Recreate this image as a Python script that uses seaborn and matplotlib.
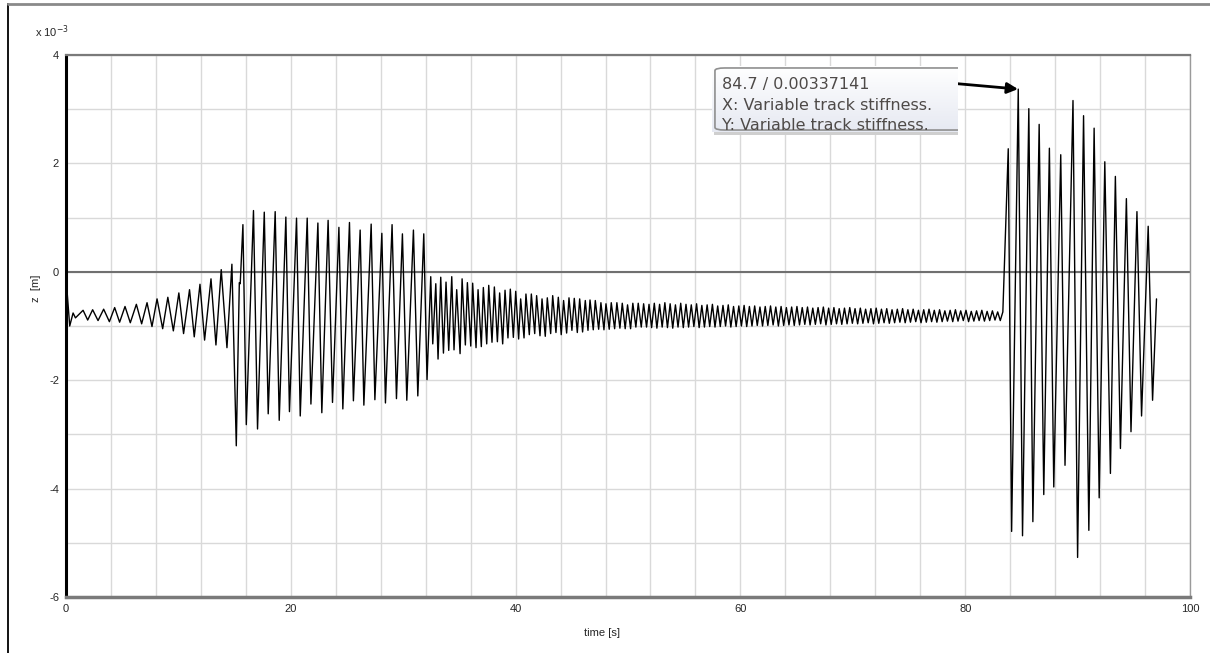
import numpy as np
import pandas as pd
import matplotlib
matplotlib.use("Agg")
import matplotlib.pyplot as plt
import seaborn as sns
from matplotlib.ticker import MultipleLocator
from matplotlib.lines import Line2D
from matplotlib.patches import FancyBboxPatch, Rectangle

# z values are in units of 1e-3 m (peaks / troughs)

# 0 - 15.5 s : growing oscillation around -0.8
t_start = [0.0, 0.33, 0.63, 0.84, 1.52, 1.93, 2.37, 2.85, 3.35, 3.86,
           4.33, 4.77, 5.25, 5.72, 6.26, 6.73, 7.21, 7.65, 8.10, 8.60,
           9.06, 9.55, 10.04, 10.46, 10.99, 11.41, 11.92, 12.33, 12.90, 13.34,
           13.81, 14.32, 14.76, 15.15, 15.42, 15.50]
z_start = [-0.10, -1.00, -0.76, -0.85, -0.71, -0.89, -0.70, -0.90, -0.69, -0.92,
           -0.66, -0.93, -0.64, -0.94, -0.60, -0.96, -0.57, -1.01, -0.50, -1.05,
           -0.47, -1.09, -0.39, -1.14, -0.33, -1.20, -0.23, -1.26, -0.13, -1.35,
           0.04, -1.40, 0.14, -3.21, -0.20, -0.22]

# 15.5 - 32 s : large oscillation
t_first = [15.74, 16.04, 16.68, 17.04, 17.64, 17.99, 18.61, 18.97, 19.56, 19.88,
           20.51, 20.84, 21.46, 21.79, 22.41, 22.76, 23.32, 23.71, 24.28, 24.63,
           25.22, 25.57, 26.17, 26.50, 27.15, 27.48, 28.10, 28.42, 29.01, 29.40,
           29.93, 30.32, 30.91, 31.30, 31.83, 32.12]
z_first = [0.87, -2.82, 1.13, -2.90, 1.10, -2.62, 1.11, -2.74, 1.01, -2.58,
           0.99, -2.66, 0.99, -2.44, 0.90, -2.60, 0.95, -2.41, 0.82, -2.53,
           0.91, -2.38, 0.77, -2.46, 0.88, -2.36, 0.71, -2.42, 0.87, -2.34,
           0.70, -2.37, 0.77, -2.29, 0.70, -1.99]

# 32 - 52 s : fast decaying oscillation
t_decay = [32.45, 32.63, 32.90, 33.10, 33.34, 33.58, 33.81, 34.05, 34.32, 34.52,
           34.76, 35.06, 35.24, 35.53, 35.71, 36.01, 36.18, 36.48, 36.66, 36.95,
           37.13, 37.43, 37.61, 37.90, 38.11, 38.38, 38.58, 38.85, 39.06, 39.32,
           39.53, 39.80, 40.01, 40.27, 40.45, 40.75, 40.92, 41.22, 41.40, 41.70,
           41.87, 42.17, 42.35, 42.64, 42.82, 43.12, 43.30, 43.59, 43.80, 44.06,
           44.27, 44.54, 44.75, 45.01, 45.22, 45.49, 45.70, 45.96, 46.20, 46.44,
           46.62, 46.91, 47.09, 47.39, 47.59, 47.86, 48.04, 48.33, 48.51, 48.81,
           49.01, 49.28, 49.49, 49.75, 49.96, 50.23, 50.43, 50.70, 50.91, 51.18,
           51.39, 51.65, 51.87]
z_decay = [-0.09, -1.33, -0.22, -1.61, -0.10, -1.50, -0.19, -1.45, -0.09, -1.44,
           -0.33, -1.51, -0.13, -1.35, -0.20, -1.37, -0.21, -1.40, -0.33, -1.38,
           -0.29, -1.33, -0.25, -1.30, -0.28, -1.29, -0.39, -1.33, -0.34, -1.22,
           -0.32, -1.21, -0.36, -1.24, -0.50, -1.22, -0.41, -1.16, -0.41, -1.14,
           -0.44, -1.18, -0.50, -1.19, -0.48, -1.14, -0.44, -1.12, -0.47, -1.16,
           -0.53, -1.13, -0.48, -1.08, -0.49, -1.12, -0.50, -1.11, -0.53, -1.08,
           -0.52, -1.07, -0.53, -1.06, -0.57, -1.07, -0.59, -1.06, -0.57, -1.05,
           -0.57, -1.04, -0.58, -1.05, -0.61, -1.05, -0.58, -1.02, -0.58, -1.02,
           -0.59, -1.02, -0.60]

# 52 - 83.4 s : small steady oscillation
t_steady = [52.10, 52.34, 52.57, 52.81, 53.04, 53.28, 53.51, 53.75, 53.98, 54.22,
            54.45, 54.69, 54.92, 55.16, 55.39, 55.63, 55.86, 56.10, 56.33, 56.57,
            56.80, 57.04, 57.27, 57.51, 57.74, 57.98, 58.21, 58.45, 58.68, 58.92,
            59.15, 59.39, 59.62, 59.86, 60.09, 60.33, 60.56, 60.80, 61.03, 61.27,
            61.50, 61.74, 61.97, 62.21, 62.44, 62.68, 62.91, 63.15, 63.38, 63.62,
            63.85, 64.09, 64.32, 64.56, 64.79, 65.03, 65.26, 65.50, 65.73, 65.97,
            66.20, 66.44, 66.67, 66.91, 67.14, 67.38, 67.61, 67.85, 68.08, 68.32,
            68.55, 68.79, 69.02, 69.26, 69.49, 69.73, 69.96, 70.20, 70.43, 70.67,
            70.90, 71.14, 71.37, 71.61, 71.84, 72.08, 72.31, 72.55, 72.78, 73.02,
            73.25, 73.49, 73.72, 73.96, 74.19, 74.43, 74.66, 74.90, 75.13, 75.37,
            75.60, 75.84, 76.07, 76.31, 76.54, 76.78, 77.01, 77.25, 77.48, 77.72,
            77.95, 78.19, 78.42, 78.66, 78.89, 79.13, 79.36, 79.60, 79.83, 80.07,
            80.30, 80.54, 80.77, 81.01, 81.24, 81.48, 81.71, 81.95, 82.18, 82.42,
            82.65, 82.89, 83.12]
z_steady = [-1.03, -0.58, -1.04, -0.60, -1.02, -0.57, -1.03, -0.59, -1.04, -0.61,
            -1.02, -0.58, -1.03, -0.60, -1.02, -0.61, -1.01, -0.59, -1.03, -0.62,
            -1.02, -0.61, -1.01, -0.60, -1.02, -0.63, -1.01, -0.62, -1.00, -0.61,
            -1.02, -0.64, -1.01, -0.63, -1.00, -0.62, -1.01, -0.64, -1.00, -0.63,
            -0.99, -0.65, -1.00, -0.64, -0.99, -0.63, -0.98, -0.65, -1.00, -0.64,
            -0.99, -0.66, -0.98, -0.65, -0.99, -0.64, -0.98, -0.66, -0.97, -0.65,
            -0.98, -0.67, -0.97, -0.66, -0.96, -0.65, -0.98, -0.67, -0.97, -0.66,
            -0.96, -0.68, -0.97, -0.67, -0.96, -0.66, -0.95, -0.68, -0.96, -0.67,
            -0.95, -0.69, -0.94, -0.68, -0.96, -0.67, -0.95, -0.69, -0.94, -0.68,
            -0.95, -0.70, -0.94, -0.69, -0.93, -0.68, -0.94, -0.70, -0.93, -0.69,
            -0.92, -0.71, -0.94, -0.70, -0.93, -0.69, -0.92, -0.71, -0.93, -0.70,
            -0.92, -0.72, -0.91, -0.71, -0.92, -0.70, -0.91, -0.72, -0.90, -0.71,
            -0.92, -0.73, -0.91, -0.72, -0.90, -0.71, -0.91, -0.73, -0.90, -0.72,
            -0.89, -0.74, -0.90]

# 83.4 - 97 s : second large oscillation
t_second = [83.35, 83.83, 84.13, 84.72, 85.10, 85.66, 86.02, 86.58, 86.99, 87.49,
            87.88, 88.50, 88.88, 89.59, 90.00, 90.53, 91.00, 91.47, 91.92, 92.42,
            92.92, 93.36, 93.81, 94.34, 94.75, 95.28, 95.69, 96.28, 96.67, 97.02]
z_second = [-0.74, 2.27, -4.79, 3.37, -4.87, 3.01, -4.61, 2.72, -4.11, 2.28,
            -3.97, 2.16, -3.57, 3.16, -5.27, 2.88, -4.77, 2.65, -4.17, 2.03,
            -3.72, 1.76, -3.26, 1.35, -2.95, 1.11, -2.66, 0.84, -2.37, -0.50]

marker_t, marker_z = 84.7, 3.37141
marker_label = "84.7 / 0.00337141"
marker_x_text = "X: Variable track stiffness."
marker_y_text = "Y: Variable track stiffness."

df = pd.DataFrame({
    "time": t_start + t_first + t_decay + t_steady + t_second,
    "z": z_start + z_first + z_decay + z_steady + z_second,
})

sns.set_style("white")
plt.rcParams["font.family"] = ["Liberation Sans", "DejaVu Sans"]

W, H = 1210, 653
fig = plt.figure(figsize=(W / 100, H / 100), dpi=100)
ax = fig.add_axes([66 / W, 1 - 597 / H, (1190 - 66) / W, (597 - 55) / H])

sns.lineplot(data=df, x="time", y="z", sort=False, estimator=None,
             color="black", linewidth=1.0, ax=ax, zorder=3)

ax.set_xlim(0, 100)
ax.set_ylim(-6, 4)
ax.xaxis.set_major_locator(MultipleLocator(20))
ax.xaxis.set_minor_locator(MultipleLocator(4))
ax.yaxis.set_major_locator(MultipleLocator(2))
ax.yaxis.set_minor_locator(MultipleLocator(1))
ax.grid(which="both", color="#d9d9d9", linewidth=1.0)
ax.set_axisbelow(True)
ax.axhline(0, color="#707070", linewidth=1.5, zorder=2)

ax.spines["left"].set_color("black")
ax.spines["left"].set_linewidth(2.2)
ax.spines["bottom"].set_color("#7a7a7a")
ax.spines["bottom"].set_linewidth(2.5)
ax.spines["top"].set_color("#7a7a7a")
ax.spines["top"].set_linewidth(1.6)
ax.spines["right"].set_color("#9a9a9a")
ax.spines["right"].set_linewidth(1.0)

ax.tick_params(which="major", direction="out", length=4, width=1,
               color="#444444", labelsize=8, pad=1)
ax.tick_params(which="minor", direction="out", length=3, width=1, color="#444444")
ax.set_xticklabels([f"{v:g}" for v in ax.get_xticks()])
ax.set_yticklabels([f"{v:g}" for v in ax.get_yticks()])

ax.set_xlabel("time [s]", fontsize=8)
ax.xaxis.set_label_coords((602 - 66) / 1124, -(628 - 597) / 542)
ax.set_ylabel("z  [m]", fontsize=8)
ax.yaxis.set_label_coords((41 - 66) / 1124, (597 - 288) / 542)

fig.text(35 / W, 1 - 37 / H, r"x 10$^{-3}$", fontsize=8, va="baseline")

# outer frame of the screenshot
fig.add_artist(Line2D([8 / W, 8 / W], [0, 1 - 4 / H], transform=fig.transFigure,
                      color="black", linewidth=1.3))
fig.add_artist(Line2D([8 / W, 1], [1 - 4 / H, 1 - 4 / H], transform=fig.transFigure,
                      color="#8a8a8a", linewidth=2))

# data tooltip
fig.add_artist(Rectangle((714 / W, 1 - 135 / H), 244 / W, 6 / H,
                         transform=fig.transFigure, facecolor="#cfcfcf",
                         edgecolor="none", zorder=4))
bx = fig.add_axes([712 / W, 1 - 132 / H, 246 / W, 66 / H], zorder=5)
bx.set_xlim(0, 1)
bx.set_ylim(0, 1)
bx.axis("off")
bx.imshow(np.linspace(0, 1, 50).reshape(-1, 1), extent=(0, 1, 0, 1),
          aspect="auto", cmap=matplotlib.colors.LinearSegmentedColormap.from_list(
              "tip", ["#ffffff", "#e6e9f2"]), zorder=0)
bx.add_patch(FancyBboxPatch((0.012, 0.03), 1.2, 0.94,
                            boxstyle="round,pad=0,rounding_size=0.04",
                            facecolor="none", edgecolor="#8f8f8f",
                            linewidth=1.2, zorder=1))
tip_font = dict(fontsize=11.5, color="#4e4a48", family=["DejaVu Sans"],
                va="center", ha="left", clip_on=True)
bx.text(0.04, 0.72, marker_label, **tip_font)
bx.text(0.04, 0.40, marker_x_text, **tip_font)
bx.text(0.04, 0.10, marker_y_text, **tip_font)

ax.annotate("", xy=(marker_t, marker_z), xytext=(79.33, 3.47),
            arrowprops=dict(arrowstyle="-|>", color="black", lw=2,
                            mutation_scale=16, shrinkA=0, shrinkB=0),
            zorder=6)

fig.savefig("out.png", dpi=100)
